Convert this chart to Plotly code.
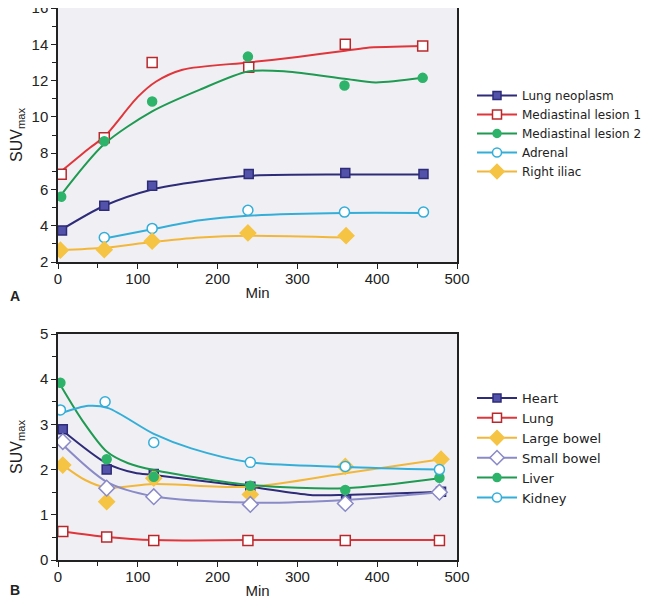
import plotly.graph_objects as go

# ── Panel A data (marker values and smooth fit curves) ────────────
a_lung_x = [5, 58, 118, 239, 360, 458]
a_lung_y = [3.74, 5.1, 6.2, 6.85, 6.9, 6.85]
a_lung_fit_x = [5, 58, 118, 178, 239, 360, 458]
a_lung_fit_y = [3.8, 5.1, 6.0, 6.45, 6.75, 6.82, 6.82]

a_med1_x = [4, 58, 118, 239, 360, 457]
a_med1_y = [6.84, 8.85, 13.0, 12.73, 14.0, 13.9]
a_med1_fit_x = [4, 40, 58, 100, 123, 156, 239, 300, 360, 386, 457]
a_med1_fit_y = [7.0, 8.3, 8.9, 11.1, 11.95, 12.6, 13.0, 13.3, 13.65, 13.8, 13.9]

a_med2_x = [4, 58, 118, 238, 359, 457]
a_med2_y = [5.6, 8.66, 10.85, 13.32, 11.73, 12.15]
a_med2_fit_x = [4, 58, 118, 178, 238, 286, 359, 398, 457]
a_med2_fit_y = [5.7, 8.5, 10.3, 11.5, 12.5, 12.5, 12.1, 11.9, 12.15]

a_adr_x = [58, 118, 238, 359, 458]
a_adr_y = [3.35, 3.85, 4.85, 4.75, 4.75]
a_adr_fit_x = [58, 118, 178, 238, 359, 458]
a_adr_fit_y = [3.3, 3.8, 4.3, 4.55, 4.7, 4.7]

a_iliac_x = [3, 58, 118, 238, 361]
a_iliac_y = [2.65, 2.68, 3.15, 3.6, 3.45]
a_iliac_fit_x = [3, 58, 118, 178, 238, 361]
a_iliac_fit_y = [2.65, 2.78, 3.1, 3.35, 3.45, 3.35]

# ── Panel B data ──────────────────────────────────────────────────
b_heart_x = [6, 61, 120, 241, 361, 480]
b_heart_y = [2.89, 2.0, 1.9, 1.62, 1.34, 1.51]
b_heart_fit_x = [6, 61, 96, 120, 241, 316, 361, 480]
b_heart_fit_y = [2.86, 2.14, 1.93, 1.88, 1.62, 1.44, 1.44, 1.51]

b_lung_x = [6, 61, 120, 238, 360, 478]
b_lung_y = [0.63, 0.51, 0.43, 0.43, 0.43, 0.43]
b_lung_fit_y = [0.63, 0.51, 0.44, 0.44, 0.44, 0.44]

b_lbowel_x = [6, 61, 120, 241, 360, 480]
b_lbowel_y = [2.1, 1.29, 1.81, 1.45, 2.07, 2.23]
b_lbowel_fit_x = [6, 34, 61, 120, 241, 360, 480]
b_lbowel_fit_y = [2.1, 1.77, 1.6, 1.68, 1.62, 1.92, 2.23]

b_sbowel_x = [6, 61, 120, 241, 360, 478]
b_sbowel_y = [2.62, 1.59, 1.4, 1.23, 1.25, 1.5]
b_sbowel_fit_y = [2.55, 1.73, 1.41, 1.27, 1.33, 1.5]

b_liver_x = [3, 61, 120, 241, 360, 478]
b_liver_y = [3.92, 2.23, 1.84, 1.64, 1.55, 1.82]
b_liver_fit_x = [3, 30, 61, 88, 120, 241, 360, 478]
b_liver_fit_y = [3.87, 3.1, 2.4, 2.14, 1.99, 1.66, 1.59, 1.81]

b_kidney_x = [3, 59, 120, 241, 360, 478]
b_kidney_y = [3.32, 3.5, 2.6, 2.16, 2.07, 2.0]
b_kidney_fit_x = [3, 38, 63, 120, 167, 241, 360, 478]
b_kidney_fit_y = [3.24, 3.41, 3.36, 2.79, 2.47, 2.16, 2.06, 2.0]

# ── Styles ────────────────────────────────────────────────────────
NAVY, NAVY_FILL = "#2e2b78", "#5252aa"
RED = "#e0353a"
GREEN, GREEN_FILL = "#1f9a52", "#2db36a"
CYAN = "#33aed8"
YELLOW, YELLOW_FILL = "#f2b73a", "#f6c444"
LAVENDER = "#8a8ac8"

FONT = "Arial, Liberation Sans, sans-serif"
LEGEND_FONT = "DejaVu Sans, Arial, sans-serif"

fig = go.Figure()


def add_series(name, mx, my, fx, fy, color, symbol, fill, edge, size, xa, ya, legend):
    fig.add_trace(go.Scatter(
        x=fx, y=fy, mode="lines", line=dict(color=color, width=2, shape="spline", smoothing=0.8),
        xaxis=xa, yaxis=ya, showlegend=False, hoverinfo="skip",
    ))
    fig.add_trace(go.Scatter(
        x=mx, y=my, mode="markers", name=name, xaxis=xa, yaxis=ya, showlegend=False,
        marker=dict(symbol=symbol, size=size, color=fill, line=dict(color=edge, width=1.5)),
    ))
    # legend entry (line + marker sample)
    fig.add_trace(go.Scatter(
        x=[None], y=[None], mode="lines+markers", name=name, xaxis=xa, yaxis=ya, legend=legend,
        line=dict(color=color, width=2),
        marker=dict(symbol=symbol, size=size - 1, color=fill, line=dict(color=edge, width=1.5)),
    ))


# Panel A
add_series("Lung neoplasm", a_lung_x, a_lung_y, a_lung_fit_x, a_lung_fit_y,
           NAVY, "square", NAVY_FILL, NAVY, 9, "x", "y", "legend")
add_series("Mediastinal lesion 1", a_med1_x, a_med1_y, a_med1_fit_x, a_med1_fit_y,
           RED, "square", "white", "#b8282c", 10, "x", "y", "legend")
add_series("Mediastinal lesion 2", a_med2_x, a_med2_y, a_med2_fit_x, a_med2_fit_y,
           GREEN, "circle", GREEN_FILL, GREEN_FILL, 9, "x", "y", "legend")
add_series("Adrenal", a_adr_x, a_adr_y, a_adr_fit_x, a_adr_fit_y,
           CYAN, "circle", "white", CYAN, 10, "x", "y", "legend")
add_series("Right iliac", a_iliac_x, a_iliac_y, a_iliac_fit_x, a_iliac_fit_y,
           YELLOW, "diamond", YELLOW_FILL, YELLOW_FILL, 12, "x", "y", "legend")

# Panel B
add_series("Heart", b_heart_x, b_heart_y, b_heart_fit_x, b_heart_fit_y,
           NAVY, "square", NAVY_FILL, NAVY, 9, "x2", "y2", "legend2")
add_series("Lung", b_lung_x, b_lung_y, b_lung_x, b_lung_fit_y,
           RED, "square", "white", "#b8282c", 10, "x2", "y2", "legend2")
add_series("Large bowel", b_lbowel_x, b_lbowel_y, b_lbowel_fit_x, b_lbowel_fit_y,
           YELLOW, "diamond", YELLOW_FILL, YELLOW_FILL, 12, "x2", "y2", "legend2")
add_series("Small bowel", b_sbowel_x, b_sbowel_y, b_sbowel_x, b_sbowel_fit_y,
           LAVENDER, "diamond", "white", LAVENDER, 12, "x2", "y2", "legend2")
add_series("Liver", b_liver_x, b_liver_y, b_liver_fit_x, b_liver_fit_y,
           GREEN, "circle", GREEN_FILL, GREEN_FILL, 9, "x2", "y2", "legend2")
add_series("Kidney", b_kidney_x, b_kidney_y, b_kidney_fit_x, b_kidney_fit_y,
           CYAN, "circle", "white", CYAN, 10, "x2", "y2", "legend2")

# the page body adds an 8px margin, so the figure is sized to the rest of the window
OFF = 8
W, H = 657 - OFF, 601 - OFF


def px_x(v):
    return (v - OFF) / W


def px_y(v):
    return max(0.0, min(1.0, 1 - (v - OFF) / H))


xdom = [px_x(58), px_x(457)]

axis_common = dict(
    showline=True, linecolor="#222", linewidth=1.5, mirror=True,
    ticks="outside", ticklen=5, tickcolor="#222", tickwidth=1.2,
    showgrid=False, zeroline=False, automargin=False, ticklabeloverflow="allow",
    tickfont=dict(size=15, color="#222", family=FONT),
)
x_extra = dict(range=[0, 500], dtick=100, ticklabelstandoff=-3,
               minor=dict(dtick=50, ticks="outside", ticklen=4, tickcolor="#222"))

fig.update_layout(
    width=W, height=H,
    margin=dict(l=0, r=0, t=0, b=0),
    paper_bgcolor="white",
    plot_bgcolor="#f0f0f4",
    font=dict(family=FONT, color="#222"),
    xaxis=dict(domain=xdom, anchor="y", title=dict(text="Min", font=dict(size=15), standoff=2),
               **x_extra, **axis_common),
    yaxis=dict(domain=[px_y(262), px_y(6)], anchor="x", range=[2, 16], dtick=2,
               minor=dict(dtick=1, ticks="outside", ticklen=4, tickcolor="#222"),
               title=dict(text="SUV<sub>max</sub>", font=dict(size=16), standoff=12), **axis_common),
    xaxis2=dict(domain=xdom, anchor="y2", title=dict(text="Min", font=dict(size=15), standoff=2),
                **x_extra, **axis_common),
    yaxis2=dict(domain=[px_y(560), px_y(334)], anchor="x2", range=[0, 5], dtick=1,
                minor=dict(dtick=0.5, ticks="outside", ticklen=4, tickcolor="#222"),
                title=dict(text="SUV<sub>max</sub>", font=dict(size=16), standoff=18), **axis_common),
    legend=dict(x=px_x(472), y=px_y(81), xanchor="left", yanchor="top",
                bgcolor="rgba(0,0,0,0)", font=dict(size=12, family=LEGEND_FONT, color="#222"),
                itemwidth=40, tracegroupgap=0),
    legend2=dict(x=px_x(472), y=px_y(383), xanchor="left", yanchor="top",
                 bgcolor="rgba(0,0,0,0)", font=dict(size=13, family=LEGEND_FONT, color="#222"),
                 itemwidth=40, tracegroupgap=0),
    annotations=[
        dict(text="<b>A</b>", x=0, y=px_y(296), xref="paper", yref="paper",
             xanchor="left", yanchor="middle", showarrow=False, font=dict(size=14)),
        dict(text="<b>B</b>", x=0, y=px_y(590), xref="paper", yref="paper",
             xanchor="left", yanchor="middle", showarrow=False, font=dict(size=14)),
    ],
)

fig.write_html("out.html")
